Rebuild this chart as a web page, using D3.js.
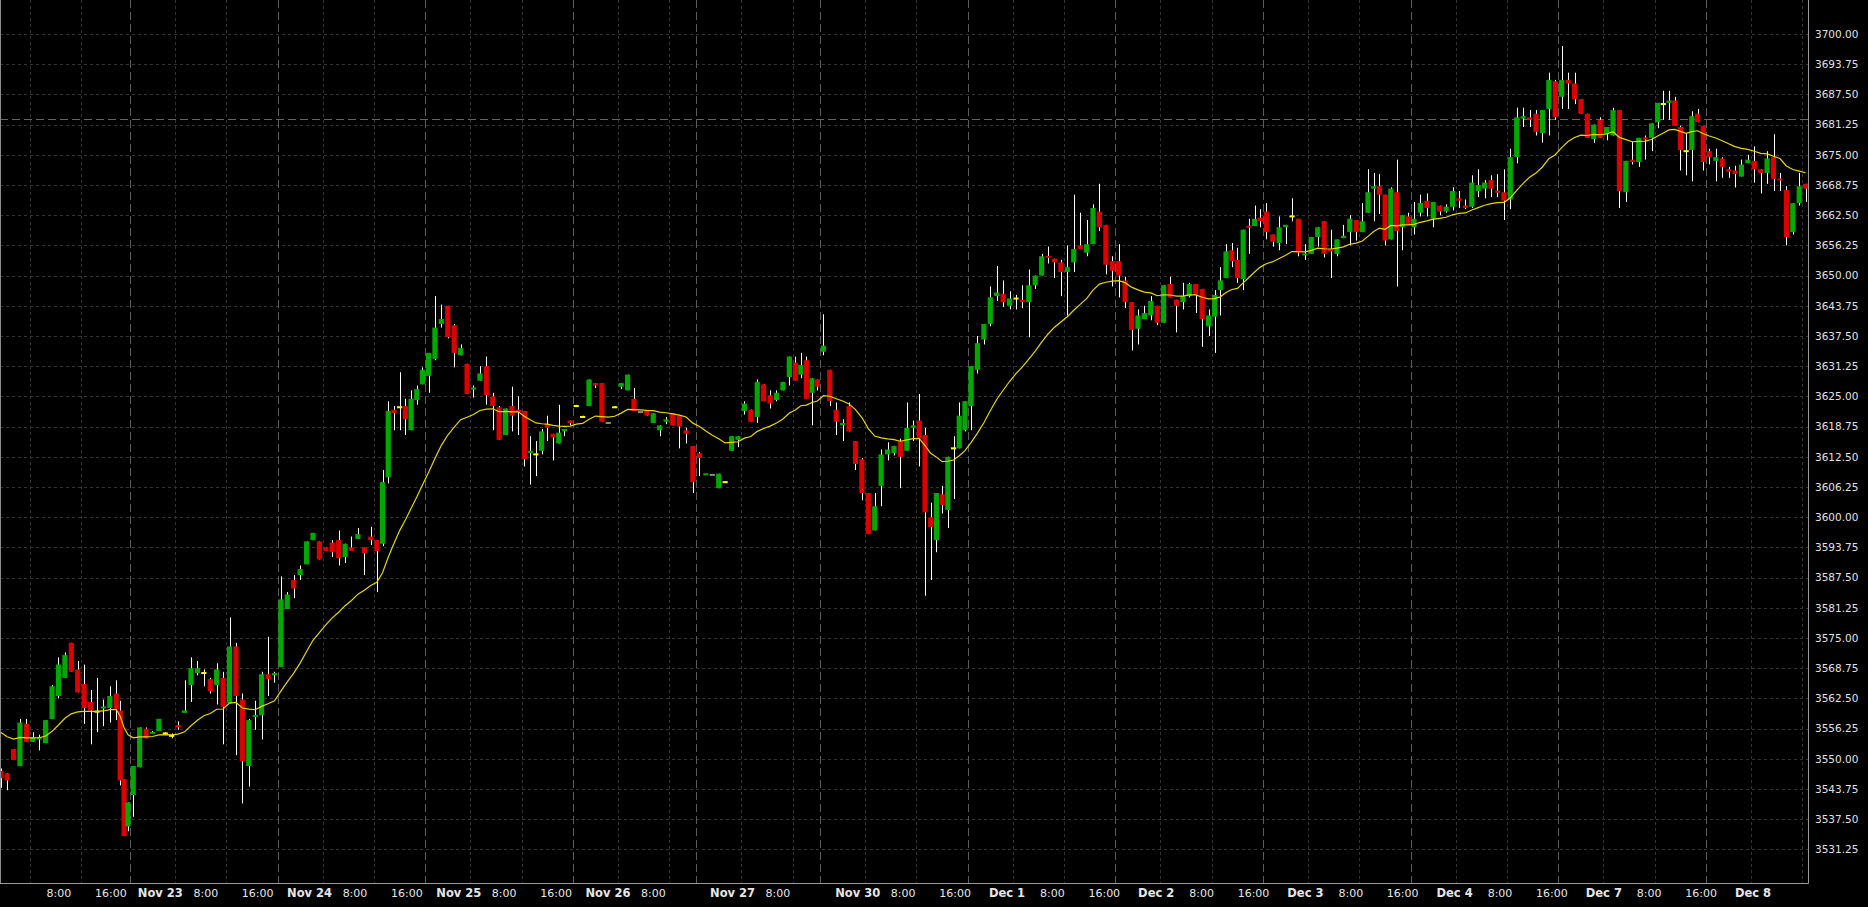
<!DOCTYPE html>
<html><head><meta charset="utf-8">
<script src="https://cdn.jsdelivr.net/npm/d3@7"></script>
<style>
html,body{margin:0;padding:0;background:#000;overflow:hidden}
svg{display:block}
</style></head><body>
<svg id="chart" width="1868" height="907"></svg>
<script>
// ---------------- DATA (hourly bars, Nov 22 – Dec 8) ----------------
const open = [
3547.5,3547,3552,3548.5,3557.25,3553.5,3554,3553.25,3558.25,3563,
3566.75,3574,3568.5,3565.5,3561.75,3559.75,3560.5,3560.5,3563.5,3560,
3545.75,3536,3542.5,3548.25,3556.25,3555.25,3555.75,3555.25,3554.75,3557,
3559.5,3565.25,3567.75,3567.75,3566.5,3565.25,3566.75,3561.5,3573.25,3562.25,
3548.5,3558.75,3559,3567.5,3567.25,3569,3581,3587,3588,3590.25,
3595.25,3595,3593.75,3594.75,3595.25,3591.75,3593.75,3595.5,3593.75,3596,
3595.25,3594.5,3608.25,3622.25,3622.75,3623,3618,3624.25,3627.5,3629.25,
3632.75,3640,3643.75,3639.75,3633.5,3631.75,3626.5,3628.25,3631.25,3625,
3622.75,3617,3623,3622.25,3622,3613.25,3613,3613.75,3619.25,3617.25,
3615.25,3617.75,3620,3623,3620.75,3623,3627.75,3627.75,3619.5,3622.75,
3627,3626.25,3624.5,3621.75,3622,3619.5,3618,3619.75,3621.5,3621,
3618,3614.75,3613.25,3608.75,3608.75,3606,3607.25,3613.75,3616,3622,
3622.25,3620.75,3627.5,3625.25,3624.25,3626.25,3629,3632,3629.5,3632.5,
3625.75,3628.5,3634.25,3630.5,3622.25,3619,3623,3615.75,3612,3605,
3597.25,3606.5,3613,3613.25,3615.75,3613.75,3618.5,3620,3617,3600,
3595.25,3604.75,3601.5,3614.25,3614.25,3618,3623,3630.5,3636.75,3640,
3645.75,3646.25,3643.75,3645.25,3645,3644.5,3648,3650,3654,3653.5,
3652.75,3650.75,3652.75,3656.25,3654.75,3656.5,3663.25,3660.5,3653,3653,
3649,3644.5,3639,3641,3641.75,3643.75,3640.25,3648.25,3645,3644.5,
3645.75,3648.25,3647.25,3639.5,3641.5,3647,3649.5,3655.25,3653.25,3649.25,
3660.25,3660.25,3662,3663.25,3658.5,3656.75,3660,3662.25,3661.75,3654.25,
3654.5,3658,3661.25,3655.5,3654.5,3657.75,3659,3661.5,3659,3663,
3668,3668.5,3666.75,3657.5,3667.25,3660,3662.25,3660,3663,3665.5,
3661.75,3664.5,3663.25,3664.25,3666,3664.5,3664.25,3667.5,3668,3669.75,
3667.5,3667.25,3665.75,3674.5,3682.5,3682.75,3683.5,3679.5,3684.5,3690.25,
3687,3690.5,3689.75,3686.5,3683.5,3678.25,3682.25,3679.25,3679,3684.25,
3667.25,3674,3673.5,3678.5,3678.5,3681.75,3685.5,3685.75,3686.25,3680.75,
3675.75,3676,3683.5,3681,3675.75,3673.75,3674.25,3672,3671.75,3670.5,
3673.25,3673.75,3672,3671.25,3674.5,3670,3667.75,3659,3665,3669];
const high = [
3548,3547,3552,3558.25,3558.25,3555.5,3555,3558,3565.25,3571,
3572,3574,3570.25,3569.5,3564.25,3566.75,3562.25,3565,3566.25,3562,
3545.75,3541,3548.5,3556.5,3556.5,3555.75,3558.25,3555.5,3555.25,3557.75,
3566.25,3571,3570.25,3568.5,3566.75,3569.75,3568,3579.25,3574,3563.5,
3558.25,3562,3568,3575.25,3568,3587.75,3584.5,3588,3590,3595,
3596.75,3595,3593.75,3595.25,3597.25,3594.5,3596,3597.75,3593.75,3598,
3595.25,3609.75,3624,3623,3630,3624.5,3626.25,3627.25,3631,3634,
3645.75,3644,3643.75,3640,3635.75,3631.75,3627.25,3631.25,3633.25,3625.75,
3623,3622.5,3627,3625,3622,3616.75,3615.75,3618.25,3621,3617.25,
3623.25,3618.25,3620,3623.25,3621,3628.5,3627.75,3627.75,3619.5,3623,
3627.75,3629.5,3626.75,3621.75,3622,3621.5,3619,3620.75,3621.5,3621,
3618.5,3614.75,3613.5,3609,3608.75,3609,3607.5,3616.75,3616.75,3624,
3622.25,3628.5,3627.5,3626.25,3626.25,3628,3633.25,3633.25,3634,3633.25,
3628.75,3628.5,3642,3630.5,3623.75,3620.25,3623.75,3615.75,3612.25,3605,
3605,3614,3615.5,3614.75,3616.25,3623.75,3620,3625.5,3618.5,3603,
3605,3606.5,3612.5,3616.75,3623.75,3624,3631.25,3637.5,3640,3647.75,
3652,3649,3646.75,3646,3648,3651.25,3650,3654.5,3656,3653.5,
3653.25,3656.25,3666.75,3663,3661.5,3664.75,3669,3660.5,3654,3656.5,
3649.75,3644.5,3643,3643.75,3645.75,3643.75,3648,3649.75,3645,3648.5,
3648.5,3648.25,3647.25,3643,3647,3651.75,3656.5,3656.75,3655.75,3659.5,
3661.75,3664.5,3663.75,3665,3658.5,3662.25,3660.5,3666,3661.75,3656.5,
3658,3660,3661.25,3659.5,3657.5,3660.5,3662.5,3661.5,3665,3672,
3671.25,3671,3666.75,3668.25,3674,3662.5,3663,3665.25,3666.75,3667,
3665.25,3664.5,3664.75,3668.25,3667.5,3665.75,3670.75,3672,3669.75,3670.75,
3671,3672,3676.25,3684.75,3684.75,3684.25,3684.25,3684.25,3692,3690.5,
3697.5,3692,3692,3686.5,3683.5,3681.25,3682.75,3680.75,3684.75,3684.25,
3673.75,3677.75,3678.5,3679,3681.5,3685.75,3688.25,3688.25,3687,3681,
3679.5,3684,3684.5,3681,3676.25,3676.25,3674.5,3672.5,3672.75,3674,
3675,3676.75,3672,3675.75,3679.25,3671.25,3668.5,3665,3671.25,3669];
const low = [
3544,3543.5,3549.75,3548.5,3553.5,3553.5,3551.75,3553.25,3558.25,3562.5,
3566.75,3568,3563.75,3557.25,3553,3555.5,3556.75,3557.5,3558,3544.5,
3534,3535,3538,3548.25,3554.25,3555.25,3555.75,3555,3554.25,3556,
3559.5,3561.75,3567.25,3565,3563.5,3561.25,3553,3561.5,3550.75,3540.75,
3544.25,3556,3554,3563,3565.75,3569,3581,3583.25,3587,3590.25,
3595.25,3591.25,3593,3591.75,3590,3590.5,3593,3595.5,3588,3594.25,
3584.5,3594,3607,3618,3618,3617,3618,3623.25,3627.5,3625.75,
3632.5,3639.25,3637,3631,3633.5,3625.5,3624.75,3628.25,3623.25,3618,
3616,3617,3617.75,3617,3610.5,3606.75,3608.5,3613,3615.75,3611.75,
3615.25,3616.75,3619,3623,3620.75,3623,3626.75,3619.75,3619.5,3622.75,
3626.5,3626.25,3622,3621.75,3621,3619.5,3616.75,3619.25,3619,3614.25,
3615.25,3605,3608.5,3608.75,3608.75,3606,3607.25,3613.75,3614.5,3621.25,
3619.75,3619.5,3624,3622.5,3624,3626.25,3627.25,3628.25,3628.75,3624.5,
3619,3626.25,3633.5,3623,3617,3615.75,3617.75,3609.75,3603.5,3596.5,
3597.25,3602.25,3611.75,3612.75,3606,3613.75,3615.75,3610.5,3583.75,3587,
3592.75,3600.75,3597.75,3603.75,3614.25,3617.75,3618,3629.75,3635.75,3639.5,
3644.75,3643.5,3643,3643,3643.25,3637.25,3647.25,3650,3652.5,3649.5,
3645.75,3641.75,3650.75,3655.5,3654,3656.5,3659.25,3650.25,3647.75,3645.5,
3643.25,3634.5,3635.75,3641,3640.75,3639.75,3640.25,3645.5,3638.25,3643,
3645.5,3642.25,3635.25,3637.5,3634,3641.75,3649.5,3651.75,3648.5,3647,
3654.5,3660.25,3660,3657.5,3656,3655.25,3656.5,3661.25,3654,3653.25,
3654.5,3656,3653.75,3649.5,3654,3657.75,3656.25,3657.25,3659,3663,
3661.25,3662.75,3656.25,3657.5,3647.75,3655.25,3660.5,3658.5,3662.25,3662.25,
3660,3662.5,3663,3663.5,3664,3663.75,3664,3666.25,3666,3666.25,
3666.25,3661.5,3663.75,3673.25,3680.75,3680.75,3679,3677.5,3679,3682.25,
3684.5,3684.5,3685.5,3683.5,3678.5,3677.5,3678.5,3678,3679,3664,
3665.25,3673,3672.5,3674,3675.75,3680.5,3682.25,3682.25,3681,3671.75,
3670.75,3669.5,3681.75,3671.75,3673,3669.5,3670.25,3670.25,3668.25,3670.5,
3673.25,3669.25,3667,3669,3667.5,3667.5,3656.25,3658.5,3664.5,3665.25];
const close = [
3546,3545.5,3549.75,3557.5,3553.5,3554.5,3554.5,3558,3565,3569.5,
3571.5,3568,3563.75,3560.5,3560,3559.75,3560.75,3563,3560.25,3545.5,
3534,3541,3548.5,3556.5,3554.25,3555.5,3558.25,3555.25,3554.75,3556.5,
3560,3568.75,3568.75,3567.75,3564,3568.5,3560.75,3573.25,3563,3549.5,
3558,3559,3567.5,3566.5,3567.75,3583,3584,3585.25,3589.25,3595,
3596.75,3591.25,3593,3592.75,3591.5,3594.5,3593,3596.5,3592.5,3595.25,
3593,3607.25,3622,3621.5,3622.75,3620.25,3624.5,3626.5,3630.5,3634,
3639.25,3641,3637.25,3634,3635,3625.5,3626.75,3629.75,3625.25,3623,
3616,3622.5,3621,3621.75,3612,3613.75,3613,3617.75,3618.5,3616.5,
3617.5,3618.25,3619.5,3623,3620.75,3628.5,3627.25,3619.75,3619.5,3622.75,
3627.75,3629.5,3622,3621.75,3621,3621.5,3619,3620.25,3619,3618.75,
3617.25,3607.25,3612.25,3609,3608.75,3609,3607.25,3616.75,3616.75,3623.5,
3619.75,3628,3624,3623.5,3625.75,3628,3633.25,3628.25,3631.5,3624.5,
3628.75,3627,3635.5,3624,3619.75,3619.5,3617.75,3611,3605,3596.5,
3602.25,3613,3614,3614.75,3612.5,3618.5,3619,3616.25,3601,3598,
3605,3602.5,3612.5,3614.25,3621,3624,3631.25,3636,3640,3645.5,
3646.5,3644.5,3645.25,3645.25,3644.5,3648,3650,3654,3653.75,3652.75,
3650.75,3651.75,3655.5,3655.5,3656.5,3664,3660,3652.25,3651,3650,
3644.5,3638.75,3641.75,3642.25,3644.75,3640.25,3648,3645.5,3643.75,3645.75,
3648.25,3646,3641,3641.75,3646,3649,3655,3653,3649.5,3659.5,
3660,3661.75,3661.25,3659,3657,3660,3660.5,3662.25,3654.75,3654.5,
3658,3660,3654.5,3655,3657.5,3658.25,3661.75,3659,3661.25,3667.25,
3668.5,3666.75,3657.25,3668,3659.25,3662.5,3660.5,3661.75,3665,3664,
3665.25,3663.25,3664.25,3667.5,3665.5,3664,3669.25,3668.75,3669.25,3668,
3667.25,3665.5,3674.5,3682.75,3683,3682.25,3679.75,3684.25,3690.5,3682.75,
3690.5,3689.75,3686.5,3683.5,3678.5,3681.25,3678.5,3680.75,3684.25,3667.5,
3673.75,3673.5,3678.5,3678.25,3681.5,3685.75,3685.5,3686.25,3681,3676,
3675.75,3683,3681.75,3673.5,3674.5,3674.5,3672.5,3671.5,3671,3673,
3674,3672,3671.25,3674.25,3670,3669.75,3658,3665,3668.5,3668];

// sessions
const dayLabels = ["Nov 23","Nov 24","Nov 25","Nov 26","Nov 27","Nov 30","Dec 1","Dec 2","Dec 3","Dec 4","Dec 7","Dec 8"];
const dayStart  = [22,45,69,93,112,132,156,179,203,227,250,274];   // first bar of each session
const sessionHours = [23,23,23,19.2,19.3,23,23,23,23,23,23];       // length of each complete session
const hour8Bar  = [5,29,52,76,100,119,139,163,186,210,234,257,281];
const hour16Bar = [13,37,60,84,108,127,147,171,194,218,242,265,289];
// bottom axis labels
const tickBar  = [5,13,22,29,37,45,52,60,69,76,84,93,100,112,119,132,139,147,156,163,171,179,186,194,203,210,218,227,234,242,250,257,265,274];
const tickText = ["8:00","16:00","Nov 23","8:00","16:00","Nov 24","8:00","16:00","Nov 25","8:00","16:00","Nov 26","8:00","Nov 27","8:00","Nov 30","8:00","16:00","Dec 1","8:00","16:00","Dec 2","8:00","16:00","Dec 3","8:00","16:00","Dec 4","8:00","16:00","Dec 7","8:00","16:00","Dec 8"];
// right axis labels
const priceTicks = [3700,3693.75,3687.5,3681.25,3675,3668.75,3662.5,3656.25,3650,3643.75,3637.5,3631.25,3625,3618.75,3612.5,3606.25,3600,3593.75,3587.5,3581.25,3575,3568.75,3562.5,3556.25,3550,3543.75,3537.5,3531.25];
const priceTickText = ["3700.00","3693.75","3687.50","3681.25","3675.00","3668.75","3662.50","3656.25","3650.00","3643.75","3637.50","3631.25","3625.00","3618.75","3612.50","3606.25","3600.00","3593.75","3587.50","3581.25","3575.00","3568.75","3562.50","3556.25","3550.00","3543.75","3537.50","3531.25"];
const levelLine = 3682.5;
const emaPeriod = 20, emaSeed = 3555.5;

// ---------------- LAYOUT ----------------
const W = 1868, H = 907;
const plotL = 0, plotR = 1808, plotT = 0, plotB = 883;
const hp = 6.42;          // px per session hour
const firstSepX = 130, firstBarX = 0.7, preRegular = 18;

const svg = d3.select("#chart");
svg.append("rect").attr("width",W).attr("height",H).attr("fill","#000");

const y = d3.scaleLinear().domain([3531.25, 3700]).range([849.4, 34]);

// piecewise time scale (bar index -> px), sessions separated by day breaks
const sepX = [firstSepX];
sessionHours.forEach((h,k)=> sepX.push(sepX[k] + h*hp));
const dom = [0, preRegular], rng = [firstBarX, firstBarX + preRegular*hp];
dayStart.forEach((d,k)=>{ dom.push(d-0.5, d-0.5+15); rng.push(sepX[k], sepX[k]+15*hp); });
const x = d3.scaleLinear().domain(dom).range(rng);

const defs = svg.append("defs");
defs.append("clipPath").attr("id","plotclip").append("rect")
  .attr("x",plotL).attr("y",plotT).attr("width",plotR-plotL).attr("height",plotB-plotT);

const g = svg.append("g").attr("clip-path","url(#plotclip)");

// horizontal grid
g.append("g").selectAll("line").data(priceTicks).join("line")
  .attr("x1",plotL).attr("x2",plotR)
  .attr("y1",d=>Math.round(y(d))+0.5).attr("y2",d=>Math.round(y(d))+0.5)
  .attr("stroke","#333333").attr("stroke-width",1).attr("stroke-dasharray","3,3");

// vertical hour grid
g.append("g").selectAll("line").data(hour8Bar.concat(hour16Bar)).join("line")
  .attr("x1",d=>Math.round(x(d-0.5))+0.5).attr("x2",d=>Math.round(x(d-0.5))+0.5)
  .attr("y1",plotT).attr("y2",plotB)
  .attr("stroke","#333333").attr("stroke-width",1).attr("stroke-dasharray","3,3");

// day separators
g.append("g").selectAll("line").data(dayStart).join("line")
  .attr("x1",d=>Math.round(x(d-0.5))+0.5).attr("x2",d=>Math.round(x(d-0.5))+0.5)
  .attr("y1",plotT).attr("y2",plotB)
  .attr("stroke","#5c5c5c").attr("stroke-width",1).attr("stroke-dasharray","8,4");

// horizontal level line
g.append("line").attr("x1",plotL).attr("x2",plotR)
  .attr("y1",Math.round(y(levelLine))+0.5).attr("y2",Math.round(y(levelLine))+0.5)
  .attr("stroke","#666666").attr("stroke-width",1).attr("stroke-dasharray","8,4");

// candles
const bars = d3.range(close.length);
const bodyW = 5.2;
const cg = g.append("g");
cg.selectAll("line.wick").data(bars).join("line").attr("class","wick")
  .attr("x1",i=>Math.round(x(i))+0.5).attr("x2",i=>Math.round(x(i))+0.5)
  .attr("y1",i=>y(high[i])).attr("y2",i=>y(low[i]))
  .attr("stroke","#ffffff").attr("stroke-width",1)
  .style("display",i=>high[i]===low[i]?"none":null);

function bodyColor(i){
  if (high[i]===low[i]) return "#8c8c8c";
  if (close[i]>open[i]) return "#00a800";
  if (close[i]<open[i]) return "#dc0000";
  return "#ffff00";
}
cg.selectAll("rect.body").data(bars).join("rect").attr("class","body")
  .attr("x",i=>x(i)-bodyW/2)
  .attr("width",bodyW)
  .attr("y",i=>{const t=y(Math.max(open[i],close[i])), b=y(Math.min(open[i],close[i])); return (b-t)<2 ? (t+b)/2-1 : t;})
  .attr("height",i=>{const t=y(Math.max(open[i],close[i])), b=y(Math.min(open[i],close[i])); return Math.max(2,b-t);})
  .attr("fill",bodyColor);

// EMA of closes
const alpha = 2/(emaPeriod+1);
const ema = [];
close.forEach((c,i)=> ema.push(i===0 ? emaSeed : ema[i-1] + alpha*(c-ema[i-1])));
g.append("path").datum(bars)
  .attr("d", d3.line().x(i=>x(i)).y(i=>y(ema[i])))
  .attr("fill","none").attr("stroke","#e6d600").attr("stroke-width",1.2);

// frame
svg.append("line").attr("x1",0.5).attr("x2",0.5).attr("y1",0).attr("y2",plotB).attr("stroke","#8a8a8a");
svg.append("line").attr("x1",plotR+0.5).attr("x2",plotR+0.5).attr("y1",0).attr("y2",plotB+0.5).attr("stroke","#9a9a9a");
svg.append("line").attr("x1",0).attr("x2",plotR+0.5).attr("y1",plotB+0.5).attr("y2",plotB+0.5).attr("stroke","#9a9a9a");

// right price labels
svg.append("g").selectAll("text").data(priceTicks).join("text")
  .attr("x",plotR+7).attr("y",d=>y(d)).attr("dy","0.36em")
  .attr("fill","#e0e0e0").attr("font-family","DejaVu Sans, sans-serif").attr("font-size","10.5px")
  .text((d,k)=>priceTickText[k]);

// bottom time labels
svg.append("g").selectAll("text").data(tickBar).join("text")
  .attr("x",d=>x(d-0.5)*1.0105+29).attr("y",897)
  .attr("text-anchor","middle")
  .attr("fill","#e6e6e6").attr("font-family","DejaVu Sans, sans-serif")
  .attr("font-size",(d,k)=>/^[A-Z]/.test(tickText[k])?"11.5px":"11px")
  .attr("font-weight",(d,k)=>/^[A-Z]/.test(tickText[k])?"bold":"normal")
  .text((d,k)=>tickText[k]);
</script>
</body></html>
